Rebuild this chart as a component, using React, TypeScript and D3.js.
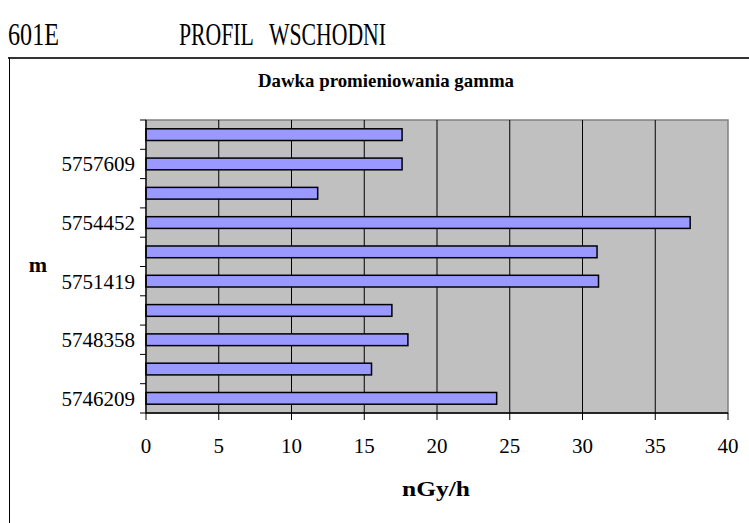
import React from 'react';
import * as d3 from 'd3';

// categories from bottom to top (Excel reversed order); only every other is labelled
const categories = ['5746209', '', '5748358', '', '5751419', '', '5754452', '', '5757609', ''];
const doseValues = [24.1, 15.5, 18.0, 16.9, 31.1, 31.0, 37.4, 11.8, 17.6, 17.6];
const xTicks = [0, 5, 10, 15, 20, 25, 30, 35, 40];

const W = 749;
const H = 523;
const plot = { left: 146, right: 728, top: 120, bottom: 413 };
const serif = '"Liberation Serif", "Times New Roman", serif';

const App: React.FC = () => {
  const x = d3.scaleLinear().domain([0, 40]).range([plot.left, plot.right]);

  // index 0 at the bottom
  const idx = categories.map((_, i) => String(i));
  const y = d3.scaleBand()
    .domain(idx)
    .range([plot.bottom, plot.top])
    .paddingInner(0.6)
    .paddingOuter(0.3);
  const yBound = d3.scaleLinear().domain([0, categories.length]).range([plot.bottom, plot.top]);
  const bounds = d3.range(categories.length + 1);

  return (
    <svg width={W} height={H} style={{ position: 'absolute', left: 0, top: 0, background: '#fff' }}>
      {/* header */}
      <text x={8} y={45} fontFamily={serif} fontSize={31} textLength={51} lengthAdjust="spacingAndGlyphs">601E</text>
      <text x={179} y={45} fontFamily={serif} fontSize={31} textLength={207} lengthAdjust="spacingAndGlyphs"
        style={{ whiteSpace: 'pre' }}>{'PROFIL   WSCHODNI'}</text>

      {/* chart frame */}
      <line x1={8} x2={W} y1={58} y2={58} stroke="#333" strokeWidth={2} />
      <line x1={9.5} x2={9.5} y1={58} y2={H} stroke="#000" strokeWidth={1} />

      <text x={386} y={87} textAnchor="middle" fontFamily={serif} fontSize={19} fontWeight="bold"
        textLength={256} lengthAdjust="spacingAndGlyphs">Dawka promieniowania gamma</text>

      {/* plot area */}
      <rect x={plot.left} y={plot.top} width={plot.right - plot.left} height={plot.bottom - plot.top}
        fill="#c0c0c0" stroke="#808080" strokeWidth={1.5} />
      {xTicks.slice(1, -1).map(t => (
        <line key={'g' + t} x1={x(t)} x2={x(t)} y1={plot.top} y2={plot.bottom} stroke="#000" strokeWidth={1} />
      ))}

      {/* bars */}
      {doseValues.map((v, i) => (
        <rect key={'b' + i} x={x(0)} y={y(String(i))!} width={x(v) - x(0)} height={y.bandwidth()}
          fill="#9999ff" stroke="#000" strokeWidth={1.5} />
      ))}

      {/* y axis */}
      <line x1={plot.left} x2={plot.left} y1={plot.top} y2={plot.bottom} stroke="#000" strokeWidth={1.3} />
      {bounds.map(b => (
        <line key={'yt' + b} x1={plot.left - 6} x2={plot.left} y1={yBound(b)} y2={yBound(b)} stroke="#000" strokeWidth={1} />
      ))}
      {categories.map((c, i) => c ? (
        <text key={'yl' + i} x={plot.left - 11} y={y(String(i))! + y.bandwidth() / 2} dy="0.35em"
          textAnchor="end" fontFamily={serif} fontSize={21}>{c}</text>
      ) : null)}
      <text x={38} y={272} textAnchor="middle" fontFamily={serif} fontSize={22} fontWeight="bold">m</text>

      {/* x axis */}
      <line x1={plot.left} x2={plot.right} y1={plot.bottom} y2={plot.bottom} stroke="#000" strokeWidth={1.3} />
      {xTicks.map(t => (
        <g key={'xt' + t}>
          <line x1={x(t)} x2={x(t)} y1={plot.bottom} y2={plot.bottom + 7} stroke="#000" strokeWidth={1} />
          <text x={x(t)} y={453} textAnchor="middle" fontFamily={serif} fontSize={21}>{t}</text>
        </g>
      ))}
      <text x={436} y={496} textAnchor="middle" fontFamily={serif} fontSize={21} fontWeight="bold"
        textLength={68} lengthAdjust="spacingAndGlyphs">nGy/h</text>
    </svg>
  );
};

export default App;
